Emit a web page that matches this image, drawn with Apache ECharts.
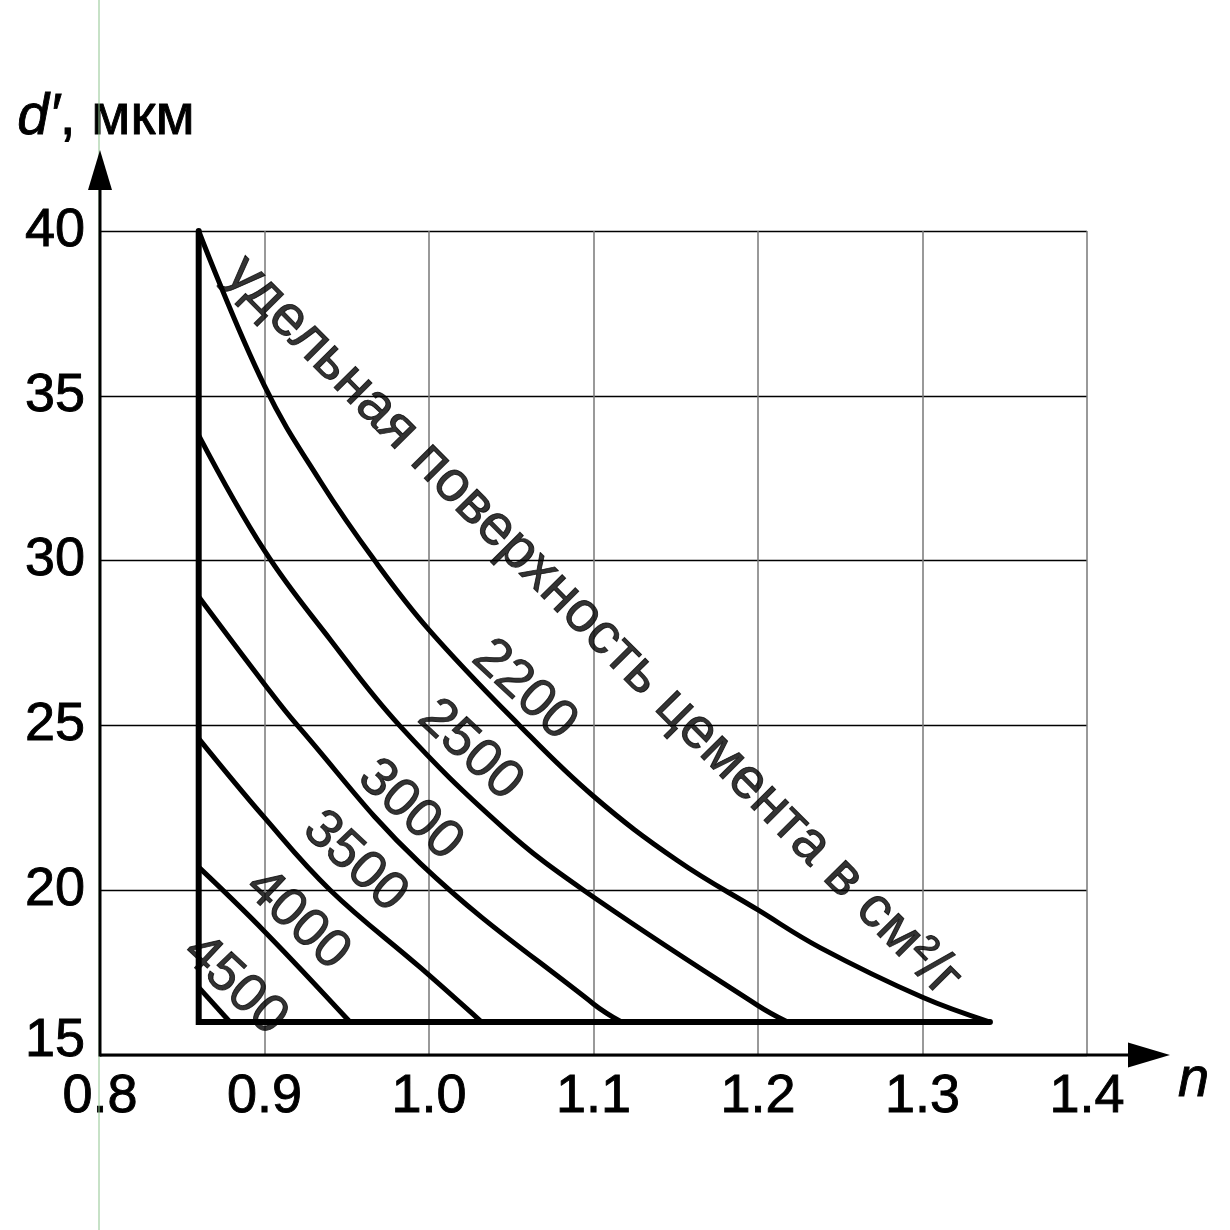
<!DOCTYPE html>
<html><head><meta charset="utf-8">
<script src="https://cdn.jsdelivr.net/npm/echarts@6/dist/echarts.min.js"></script>
<style>html,body{margin:0;padding:0;background:#fff}#c{width:1230px;height:1230px}</style>
</head><body><div id="c"></div>
<script>
// ---- data ----
const xTickStep = 0.1, xMin = 0.8, xMax = 1.4;
const yTickStep = 5, yMin = 15, yMax = 40;

const n2200 = [0.86, 0.9, 0.934, 0.967, 1.0, 1.055, 1.1, 1.151, 1.2, 1.238, 1.3, 1.341];
const d2200 = [40, 35.3, 32.4, 30, 27.9, 25, 22.85, 20.9, 19.4, 18.25, 16.75, 16];
const n2500 = [0.86, 0.9, 0.94, 0.982, 1.045, 1.094, 1.2, 1.218];
const d2500 = [33.8, 30.3, 27.6, 25, 21.9, 20, 16.5, 16];
const n3000 = [0.86, 0.9, 0.92, 0.995, 1.1, 1.117];
const d3000 = [28.9, 26.25, 25, 20.8, 16.55, 16];
const n3500 = [0.86, 0.9, 0.94, 0.995, 1.032];
const d3500 = [24.6, 22.2, 20, 17.64, 16];
const n4000 = [0.86, 0.9, 0.952];
const d4000 = [20.7, 18.75, 16];
const n4500 = [0.86, 0.879];
const d4500 = [17.05, 16];

const boundaryN = [0.86, 0.86, 1.341];
const boundaryD = [40, 16, 16];

const curveLabelText = ['2200', '2500', '3000', '3500', '4000', '4500'];
const curveLabelN = [1.058, 1.025, 0.9885, 0.955, 0.92, 0.882];
const curveLabelD = [26.07, 24.25, 22.43, 20.86, 19.1, 17.12];

const titleText = 'удельная поверхность цемента в см²/г';
const titleN = 1.1, titleD = 28.0;

const yName = 'd′';
const yUnit = ', мкм';
const xName = 'n';

// ---- chart ----
const FF = 'Liberation Sans, Arial, sans-serif';
const chart = echarts.init(document.getElementById('c'), null, {renderer: 'canvas'});

function pts(xs, ys) { return xs.map((x, i) => [x, ys[i]]); }
function curve(name, xs, ys) {
  return {
    type: 'line', name, data: pts(xs, ys), smooth: 0.4,
    symbol: 'none', lineStyle: {color: '#000', width: 5}, z: 5, silent: true
  };
}
const heavy = {textBorderColor: '#000', textBorderWidth: 0.9};

const labelData = curveLabelText.map((t, i) => [curveLabelN[i], curveLabelD[i], t]);

chart.setOption({
  animation: false,
  backgroundColor: '#fff',
  grid: {left: 100, right: 143, top: 231, bottom: 175, containLabel: false},
  xAxis: {
    type: 'value', min: xMin, max: xMax, interval: xTickStep,
    axisLine: {show: false}, axisTick: {show: false},
    axisLabel: Object.assign({fontFamily: FF, fontSize: 54, color: '#000', margin: 15,
      formatter: v => v.toFixed(1)}, heavy),
    splitLine: {show: true, lineStyle: {color: '#777', width: 1.5}}
  },
  yAxis: {
    type: 'value', min: yMin, max: yMax, interval: yTickStep,
    name: '{i|' + yName + '}{u|' + yUnit + '}', nameLocation: 'end', nameGap: 84,
    nameTextStyle: {fontFamily: FF, fontSize: 57, color: '#000', align: 'center', padding: [0, 0, 0, 12],
      rich: {i: Object.assign({fontFamily: FF, fontSize: 57, fontStyle: 'italic', color: '#000'}, heavy),
             u: Object.assign({fontFamily: FF, fontSize: 57, color: '#000'}, heavy)}},
    axisLine: {show: false}, axisTick: {show: false},
    axisLabel: Object.assign({fontFamily: FF, fontSize: 54, color: '#000', margin: 15,
      formatter: v => v === yMin ? '{b|' + v + '}' : String(v),
      rich: {b: Object.assign({fontFamily: FF, fontSize: 54, color: '#000', padding: [0, 0, 28, 0]}, heavy)}}, heavy),
    splitLine: {show: true, lineStyle: {color: '#000', width: 1.3}}
  },
  series: [
    curve('2200', n2200, d2200),
    curve('2500', n2500, d2500),
    curve('3000', n3000, d3000),
    curve('3500', n3500, d3500),
    curve('4000', n4000, d4000),
    curve('4500', n4500, d4500),
    {type: 'line', data: pts(boundaryN, boundaryD), symbol: 'none', smooth: false,
     lineStyle: {color: '#000', width: 6, cap: 'round', join: 'miter'}, z: 6, silent: true},
    {type: 'scatter', data: labelData, symbolSize: 0, z: 7, silent: true,
     label: Object.assign({show: true, position: 'inside', formatter: p => p.data[2], rotate: -43,
       fontFamily: FF, fontSize: 54, color: '#000', align: 'center', verticalAlign: 'middle'}, heavy)},
    {type: 'scatter', data: [[titleN, titleD, titleText]], symbolSize: 0, z: 7, silent: true,
     label: Object.assign({show: true, position: 'inside', formatter: p => p.data[2], rotate: -45.2,
       fontFamily: FF, fontSize: 57, color: '#000', align: 'center', verticalAlign: 'middle'}, heavy)}
  ]
});

// axis lines with arrows, located through the chart's own scales
const o = chart.convertToPixel({gridIndex: 0}, [xMin, yMin]);
const e = chart.convertToPixel({gridIndex: 0}, [xMax, yMax]);
const xTip = e[0] + 83, yTip = e[1] - 81;
chart.setOption({
  graphic: [
    {type: 'line', shape: {x1: o[0] - 1, y1: 0, x2: o[0] - 1, y2: 1230}, style: {stroke: '#8fc48f', lineWidth: 1}, z: 1, silent: true},
    {type: 'line', shape: {x1: o[0], y1: o[1], x2: xTip - 30, y2: o[1]}, style: {stroke: '#000', lineWidth: 3}, z: 10, silent: true},
    {type: 'polygon', shape: {points: [[xTip, o[1]], [xTip - 42, o[1] - 12.5], [xTip - 42, o[1] + 12.5]]}, style: {fill: '#000'}, z: 10, silent: true},
    {type: 'line', shape: {x1: o[0], y1: o[1] + 1.5, x2: o[0], y2: yTip + 30}, style: {stroke: '#000', lineWidth: 3}, z: 10, silent: true},
    {type: 'polygon', shape: {points: [[o[0], yTip], [o[0] - 12, yTip + 40], [o[0] + 12, yTip + 40]]}, style: {fill: '#000'}, z: 10, silent: true},
    {type: 'text', x: xTip + 8, y: o[1] - 3, silent: true, z: 10,
     style: {text: xName, fontFamily: FF, fontSize: 56, fontStyle: 'italic', fill: '#000', align: 'left', verticalAlign: 'top', stroke: '#000', lineWidth: 0.9}}
  ]
});
</script>
</body></html>
